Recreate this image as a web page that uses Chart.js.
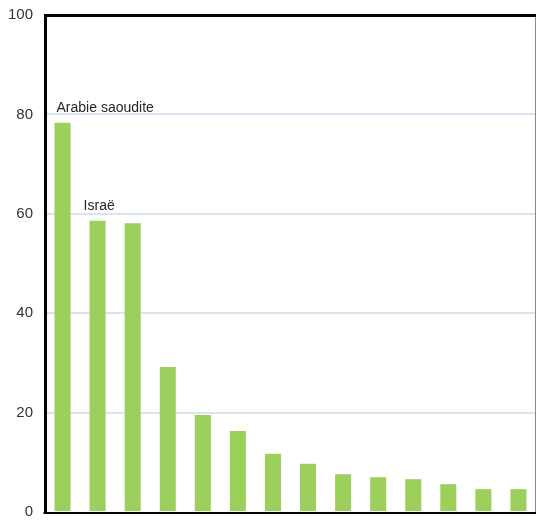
<!DOCTYPE html>
<html>
<head>
<meta charset="utf-8">
<script src="https://cdn.jsdelivr.net/npm/chart.js@4/dist/chart.umd.min.js"></script>
<style>
  html, body { margin: 0; padding: 0; background: #ffffff; }
  #wrap { width: 536px; height: 521px; }
</style>
</head>
<body>
<div id="wrap"><canvas id="c" width="536" height="521"></canvas></div>
<script>
// Categories (only the first two are named on the chart)
const categories = ["Arabie saoudite", "Israë", "", "", "", "", "", "", "", "", "", "", "", ""];
// Share values, in percent
const values = [78.3, 58.6, 58.1, 29.2, 19.5, 16.3, 11.7, 9.7, 7.6, 7.0, 6.6, 5.6, 4.6, 4.6];
// Value axis ticks
const yTicks = [0, 20, 40, 60, 80, 100];

// Horizontal shift of each callout relative to its bar's left edge
const calloutShift = { 0: 2, 1: -6 };

const calloutPlugin = {
  id: 'callouts',
  afterDatasetsDraw(chart) {
    const ctx = chart.ctx;
    const meta = chart.getDatasetMeta(0);
    ctx.save();
    ctx.font = '14px "Liberation Sans", Arial, sans-serif';
    ctx.fillStyle = '#262626';
    ctx.textAlign = 'left';
    ctx.textBaseline = 'alphabetic';
    categories.forEach((name, i) => {
      if (!name) return;
      const bar = meta.data[i];
      const left = bar.x - bar.width / 2 + (calloutShift[i] || 0);
      ctx.fillText(name, left, bar.y - 11);
    });
    ctx.restore();
  }
};

const framePlugin = {
  id: 'frame',
  afterDatasetsDraw(chart) {
    const { left, right, top, bottom } = chart.chartArea;
    const ctx = chart.ctx;
    ctx.save();
    // right edge
    ctx.strokeStyle = '#8a8a8a';
    ctx.lineWidth = 1;
    ctx.beginPath();
    ctx.moveTo(right - 0.5, top);
    ctx.lineTo(right - 0.5, bottom);
    ctx.stroke();
    // top edge
    ctx.strokeStyle = '#000000';
    ctx.lineWidth = 3;
    ctx.beginPath();
    ctx.moveTo(left, top + 0.5);
    ctx.lineTo(right, top + 0.5);
    ctx.stroke();
    // bottom axis
    ctx.lineWidth = 2;
    ctx.beginPath();
    ctx.moveTo(left - 1.5, bottom + 1);
    ctx.lineTo(right, bottom + 1);
    ctx.stroke();
    // left axis
    ctx.lineWidth = 3;
    ctx.beginPath();
    ctx.moveTo(left + 0.5, top - 1);
    ctx.lineTo(left + 0.5, bottom + 2);
    ctx.stroke();
    ctx.restore();
  }
};

new Chart(document.getElementById('c'), {
  type: 'bar',
  data: {
    labels: categories,
    datasets: [{
      data: values,
      backgroundColor: '#9ccf5b',
      borderWidth: 0,
      barPercentage: 0.457,
      categoryPercentage: 1.0
    }]
  },
  options: {
    responsive: false,
    animation: false,
    events: [],
    layout: { padding: { top: 15, right: 0, bottom: 9, left: 0 } },
    plugins: { legend: { display: false }, tooltip: { enabled: false } },
    scales: {
      x: { display: false },
      y: {
        min: 0,
        max: 100,
        afterFit(scale) {
          scale.width = 45;
          scale.paddingTop = 0;
          scale.paddingBottom = 0;
        },
        afterBuildTicks(scale) { scale.ticks = yTicks.map(v => ({ value: v })); },
        border: { display: false },
        grid: {
          drawTicks: false,
          lineWidth: 2,
          color: ctx => (ctx.tick && (ctx.tick.value === 0 || ctx.tick.value === 100)) ? 'rgba(0,0,0,0)' : '#dae4f0'
        },
        ticks: {
          padding: 12,
          color: '#333333',
          font: { family: '"Liberation Sans", Arial, sans-serif', size: 15 }
        }
      }
    }
  },
  plugins: [calloutPlugin, framePlugin]
});
</script>
</body>
</html>
